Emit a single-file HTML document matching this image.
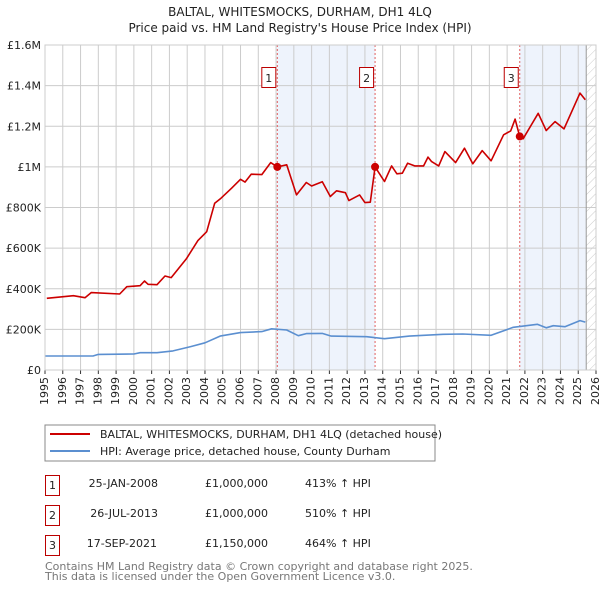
<!DOCTYPE html>
<html><head><meta charset="utf-8"><style>
body{margin:0;background:#fff;font-family:"DejaVu Sans","Liberation Sans",sans-serif;}
svg text{font-family:"DejaVu Sans","Liberation Sans",sans-serif;}
</style></head><body>
<svg id="c" width="600" height="590" xmlns="http://www.w3.org/2000/svg">
<defs><pattern id="hatch" width="6" height="6" patternUnits="userSpaceOnUse" patternTransform="rotate(45)"><line x1="0" y1="0" x2="0" y2="6" stroke="#ccc" stroke-width="1"/></pattern></defs>
<text x="300" y="16" text-anchor="middle" font-size="12" fill="#222">BALTAL, WHITESMOCKS, DURHAM, DH1 4LQ</text>
<text x="300" y="32" text-anchor="middle" font-size="12" fill="#222">Price paid vs. HM Land Registry's House Price Index (HPI)</text>
<g id="plot"></g>
<rect x="45" y="425" width="390" height="36" fill="#fff" stroke="#888"/>
<line x1="50" y1="434" x2="90" y2="434" stroke="#cc0000" stroke-width="2"/>
<text x="100" y="438" font-size="11" fill="#222">BALTAL, WHITESMOCKS, DURHAM, DH1 4LQ (detached house)</text>
<line x1="50" y1="451" x2="90" y2="451" stroke="#5b8fd0" stroke-width="2"/>
<text x="100" y="455" font-size="11" fill="#222">HPI: Average price, detached house, County Durham</text>
<g font-size="11" fill="#222">
<rect x="45.5" y="475.5" width="14" height="20" fill="#fff" stroke="#b00"/><text x="52.5" y="489" text-anchor="middle">1</text>
<text x="158" y="487" text-anchor="end">25-JAN-2008</text><text x="205" y="487">£1,000,000</text><text x="305" y="487">413% ↑ HPI</text>
<rect x="45.5" y="505.5" width="14" height="20" fill="#fff" stroke="#b00"/><text x="52.5" y="519" text-anchor="middle">2</text>
<text x="158" y="517" text-anchor="end">26-JUL-2013</text><text x="205" y="517">£1,000,000</text><text x="305" y="517">510% ↑ HPI</text>
<rect x="45.5" y="535.5" width="14" height="20" fill="#fff" stroke="#b00"/><text x="52.5" y="549" text-anchor="middle">3</text>
<text x="157" y="547" text-anchor="end">17-SEP-2021</text><text x="205" y="547">£1,150,000</text><text x="305" y="547">464% ↑ HPI</text>
</g>
<text x="45" y="570" font-size="11" fill="#777">Contains HM Land Registry data © Crown copyright and database right 2025.</text>
<text x="45" y="580" font-size="11" fill="#777">This data is licensed under the Open Government Licence v3.0.</text>
</svg>
<script>
const redYears=[1995.1,1996.6,1997.25,1997.6,1999.2,1999.6,2000.35,2000.6,2000.8,2001.3,2001.75,2002.1,2002.95,2003.6,2004.1,2004.55,2004.9,2005.5,2006,2006.25,2006.6,2007.2,2007.7,2008.07,2008.6,2009.15,2009.7,2010.0,2010.6,2011.05,2011.4,2011.9,2012.1,2012.7,2013.0,2013.3,2013.57,2014.1,2014.5,2014.8,2015.1,2015.4,2015.8,2016.3,2016.55,2016.75,2017.15,2017.5,2018.1,2018.6,2019.07,2019.6,2020.1,2020.8,2021.2,2021.45,2021.71,2021.9,2022.75,2023.2,2023.7,2024.2,2025.1,2025.4];
const redValues=[353,366,356,381,374,410,415,438,422,420,463,455,547,637,681,821,846,895,939,925,964,962,1021,1000,1010,862,923,906,927,854,882,873,834,862,824,826,1000,928,1005,966,969,1018,1005,1005,1048,1026,1005,1075,1021,1092,1015,1080,1030,1158,1177,1235,1150,1138,1264,1179,1223,1187,1363,1330];
const hpiYears=[1995,1997.7,1998,2000,2000.35,2001.3,2002.2,2003.2,2004,2004.85,2006,2007.2,2007.75,2008.6,2009.25,2009.7,2010.6,2011.1,2013.1,2014.1,2015.5,2017.4,2018.5,2020.1,2021.35,2022.7,2023.2,2023.6,2024.25,2025.1,2025.4];
const hpiValues=[69,69,77,79,85,85,94,115,134,167,184,189,203,197,169,179,180,167,164,154,167,176,177,171,210,225,208,218,213,243,236];
const saleYears=[2008.07,2013.57,2021.71];
const saleValues=[1000,1000,1150];
const saleLabels=["1","2","3"];
const yTicks=[0,200,400,600,800,1000,1200,1400,1600];
const yTickLabels=["£0","£200K","£400K","£600K","£800K","£1M","£1.2M","£1.4M","£1.6M"];
const xTicks=[1995,1996,1997,1998,1999,2000,2001,2002,2003,2004,2005,2006,2007,2008,2009,2010,2011,2012,2013,2014,2015,2016,2017,2018,2019,2020,2021,2022,2023,2024,2025,2026];
const dataEnd=2025.45;
const X0=45,X1=596,Y0=370,Y1=45;
const xs=y=>X0+(y-1995)/(2026-1995)*(X1-X0);
const ys=v=>Y0-v/1600*(Y0-Y1);
const NS="http://www.w3.org/2000/svg";
const g=document.getElementById('plot');
function mk(t,a,p){const e=document.createElementNS(NS,t);for(const k in a)e.setAttribute(k,a[k]);(p||g).appendChild(e);return e;}
// shading
let s=mk('rect',{x:xs(saleYears[0]),y:Y1,width:xs(saleYears[1])-xs(saleYears[0]),height:Y0-Y1,fill:'#eef3fc'});


s=mk('rect',{x:xs(saleYears[2]),y:Y1,width:xs(dataEnd)-xs(saleYears[2]),height:Y0-Y1,fill:'#eef3fc'});


s=mk('rect',{x:xs(dataEnd),y:Y1,width:X1-xs(dataEnd),height:Y0-Y1,fill:'url(#hatch)'});


// grid
yTicks.forEach((v,i)=>{
 const l=mk('line',{x1:X0,x2:X1,y1:ys(v),y2:ys(v),stroke:'#ccc'});
 
 
 const t=mk('text',{x:X0-4,y:ys(v)+4,'text-anchor':'end','font-size':'11',fill:'#222'});
 t.textContent=yTickLabels[i];
 
 
});
xTicks.forEach(y=>{
 const l=mk('line',{x1:xs(y),x2:xs(y),y1:Y1,y2:Y0,stroke:'#ccc'});
 
 
 mk('line',{x1:xs(y),x2:xs(y),y1:Y0,y2:Y0+4,stroke:'#333'});
 const t=mk('text',{x:xs(y),y:Y0+7,'font-size':'11',fill:'#222',transform:`rotate(-90 ${xs(y)} ${Y0+7})`,'text-anchor':'end','dominant-baseline':'middle'});
 t.textContent=y;
 
 
});
mk('line',{x1:xs(dataEnd),x2:xs(dataEnd),y1:Y1,y2:Y0,stroke:'#999'});
// sale lines
saleYears.forEach((y,i)=>{
 const l=mk('line',{x1:xs(y),x2:xs(y),y1:Y1,y2:Y0,stroke:'#e06060','stroke-dasharray':'2,2'});
 
 
});
// series
function path(xsA,vs,color,name){
 const p=mk('polyline',{points:xsA.map((y,i)=>xs(y).toFixed(1)+','+ys(vs[i]).toFixed(1)).join(' '),fill:'none',stroke:color,'stroke-width':'1.6','stroke-linejoin':'round'});
 
 
}
path(hpiYears,hpiValues,'#5b8fd0','hpi-line');
path(redYears,redValues,'#cc0000','property-price-line');
saleYears.forEach((y,i)=>{
 const c=mk('circle',{cx:xs(y),cy:ys(saleValues[i]),r:4,fill:'#cc0000'});
 
 
 const b=mk('rect',{x:xs(y)-15.5,y:67.5,width:14,height:20,fill:'#fff',stroke:'#b00'});
 
 
 const t=mk('text',{x:xs(y)-8.5,y:82,'text-anchor':'middle','font-size':'11',fill:'#222'});
 t.textContent=saleLabels[i];
});
mk('rect',{x:X0,y:Y1,width:X1-X0,height:Y0-Y1,fill:'none',stroke:'#ccc'});
</script>
</body></html>
